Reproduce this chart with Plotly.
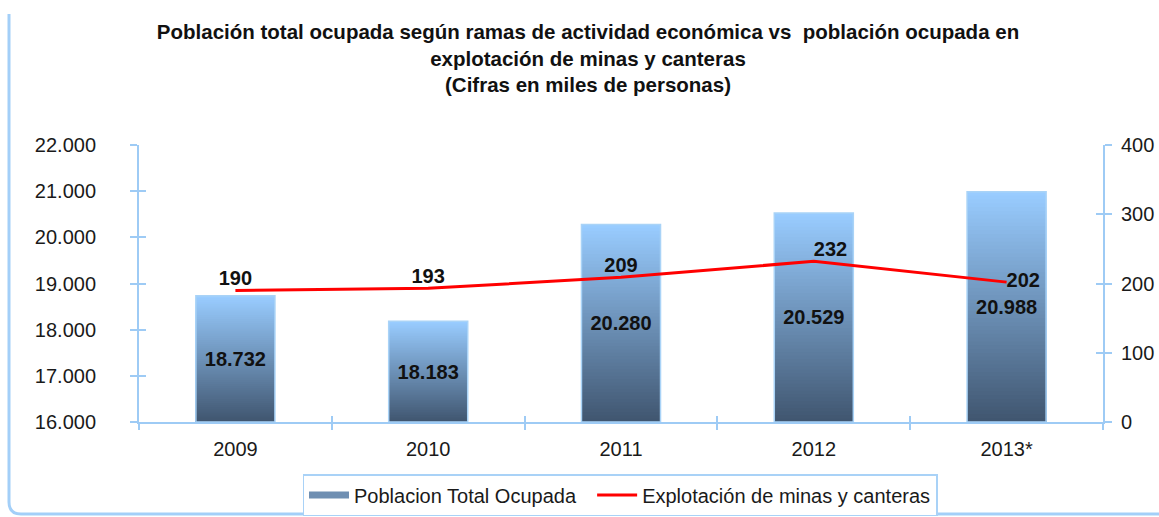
import plotly.graph_objects as go

# ---- data ----
years = ["2009", "2010", "2011", "2012", "2013*"]
poblacion_total = [18732, 18183, 20280, 20529, 20988]
minas_canteras = [190, 193, 209, 232, 202]
label_positions = ["top center", "top center", "top center", "top right", "middle right"]

title_lines = [
    "Población total ocupada según ramas de actividad económica vs  población ocupada en",
    "explotación de minas y canteras",
    "(Cifras en miles de personas)",
]
legend_bar = "Poblacion Total Ocupada"
legend_line = "Explotación de minas y canteras"

# ---- layout constants ----
W, H = 1159, 517
ML, MR, MT, MB = 139, 56, 145, 95
PW, PH = W - ML - MR, H - MT - MB
Y_MIN, Y_MAX = 16000, 22000
FONT = "Liberation Sans, Arial, sans-serif"
AXIS_COL = "#9ECBF5"
TOP_RGB = (153, 204, 255)
BOT_RGB = (64, 86, 112)
N_SEG = 60
BAR_W = 0.41


def px_x(p):
    return (p - ML) / PW


def px_y(p):
    return (H - MB - p) / PH


fig = go.Figure()

# gradient bars: nested bars of the same data, tallest/lightest drawn first,
# each shorter, darker one on top of it
heights = [v - Y_MIN for v in poblacion_total]
for k in range(N_SEG - 1, -1, -1):
    t = k / (N_SEG - 1)
    r = round(BOT_RGB[0] + (TOP_RGB[0] - BOT_RGB[0]) * t)
    g = round(BOT_RGB[1] + (TOP_RGB[1] - BOT_RGB[1]) * t)
    b = round(BOT_RGB[2] + (TOP_RGB[2] - BOT_RGB[2]) * t)
    fig.add_trace(go.Bar(
        x=years,
        y=[h * (k + 1) / N_SEG for h in heights],
        base=Y_MIN,
        width=BAR_W,
        marker=dict(color=f"rgb({r},{g},{b})", line=dict(width=0)),
        showlegend=False, hoverinfo="skip", yaxis="y",
    ))

# outline + value labels
fig.add_trace(go.Bar(
    x=years, y=heights, base=Y_MIN, width=BAR_W,
    marker=dict(color="rgba(0,0,0,0)", line=dict(color="#A9D3F7", width=1.5)),
    text=[f"{v:,}".replace(",", ".") for v in poblacion_total],
    textposition="inside", insidetextanchor="middle", constraintext="none",
    textfont=dict(family=FONT, size=20, color="#111111", weight="bold"),
    showlegend=False, hovertemplate="%{x}: %{text}<extra></extra>", yaxis="y",
))

# legend proxy for the bars
fig.add_trace(go.Scatter(
    x=[None], y=[None], mode="lines", name=legend_bar + "\u00a0\u00a0",
    line=dict(color="#6F8FB2", width=7), yaxis="y",
))

# line on secondary axis
fig.add_trace(go.Scatter(
    x=years, y=minas_canteras, mode="lines+text", name=legend_line,
    line=dict(color="#FF0000", width=3),
    text=[str(v) for v in minas_canteras], textposition=label_positions,
    textfont=dict(family=FONT, size=20, color="#111111", weight="bold"),
    yaxis="y2",
))

axis_common = dict(showgrid=False, zeroline=False, showline=True, linecolor=AXIS_COL,
                   linewidth=2, tickcolor=AXIS_COL, tickwidth=2)

fig.update_layout(
    width=W, height=H,
    margin=dict(l=ML, r=MR, t=MT, b=MB, autoexpand=False),
    paper_bgcolor="white", plot_bgcolor="white",
    barmode="overlay", separators=",.",
    font=dict(family=FONT, size=20, color="#1a1a1a"),
    title=dict(text="<br>".join(title_lines), x=588 / W, xanchor="center", xref="container",
               y=1 - 39 / H, yanchor="top", yref="container",
               font=dict(family=FONT, size=20.5, color="#111111", weight="bold")),
    xaxis=dict(type="category", categoryorder="array", categoryarray=years,
               range=[-0.5, len(years) - 0.5], tickson="boundaries", ticks="outside", ticklen=6,
               ticklabelstandoff=8, tickfont=dict(size=20), **axis_common),
    xaxis2=dict(overlaying="x", anchor="y", range=[-0.5, len(years) - 0.5],
                tickvals=[i + 0.5 for i in range(len(years) - 1)], ticks="inside", ticklen=6,
                showticklabels=False, showgrid=False, zeroline=False, showline=False,
                tickcolor=AXIS_COL, tickwidth=2),
    yaxis=dict(range=[Y_MIN, Y_MAX], dtick=1000, tickformat=",", ticks="outside", ticklen=7,
               ticklabelstandoff=30, tickfont=dict(size=20), **axis_common),
    yaxis3=dict(overlaying="y", anchor="x", side="left", range=[Y_MIN, Y_MAX], dtick=1000,
                ticks="inside", ticklen=7, showticklabels=False, showgrid=False,
                zeroline=False, showline=False, tickcolor=AXIS_COL, tickwidth=2),
    yaxis2=dict(overlaying="y", side="right", anchor="x", range=[0, 400], dtick=100,
                ticks="outside", ticklen=7, ticklabelstandoff=5, tickfont=dict(size=20),
                **axis_common),
    yaxis4=dict(overlaying="y", anchor="x", side="right", range=[0, 400], dtick=100,
                ticks="inside", ticklen=7, showticklabels=False, showgrid=False,
                zeroline=False, showline=False, tickcolor=AXIS_COL, tickwidth=2),
    legend=dict(orientation="h", x=px_x(620), xanchor="center", y=px_y(495), yanchor="middle",
                bordercolor="#A9D2F7", borderwidth=1.5, bgcolor="white", itemwidth=40,
                font=dict(family=FONT, size=20, color="#1a1a1a")),
    showlegend=True,
)

# dummy traces to activate the tick-only overlay axes
fig.add_trace(go.Scatter(x=[None], y=[None], xaxis="x2", yaxis="y3", showlegend=False, hoverinfo="skip"))
fig.add_trace(go.Scatter(x=[None], y=[None], xaxis="x2", yaxis="y4", showlegend=False, hoverinfo="skip"))

# decorative rounded frame (left and bottom edges)
x0, y0, y1, rad = px_x(9), px_y(14), px_y(514), 12
path = (f"M {x0},{y0} L {x0},{px_y(514 - rad)} "
        f"Q {x0},{y1} {px_x(9 + rad)},{y1} L {px_x(W + 10)},{y1}")
fig.add_shape(type="path", path=path, xref="paper", yref="paper",
              line=dict(color="#A3CFF8", width=3), layer="below")

fig.write_html("out.html", config={"displayModeBar": False},
               post_script="document.body.style.margin='0px';")
